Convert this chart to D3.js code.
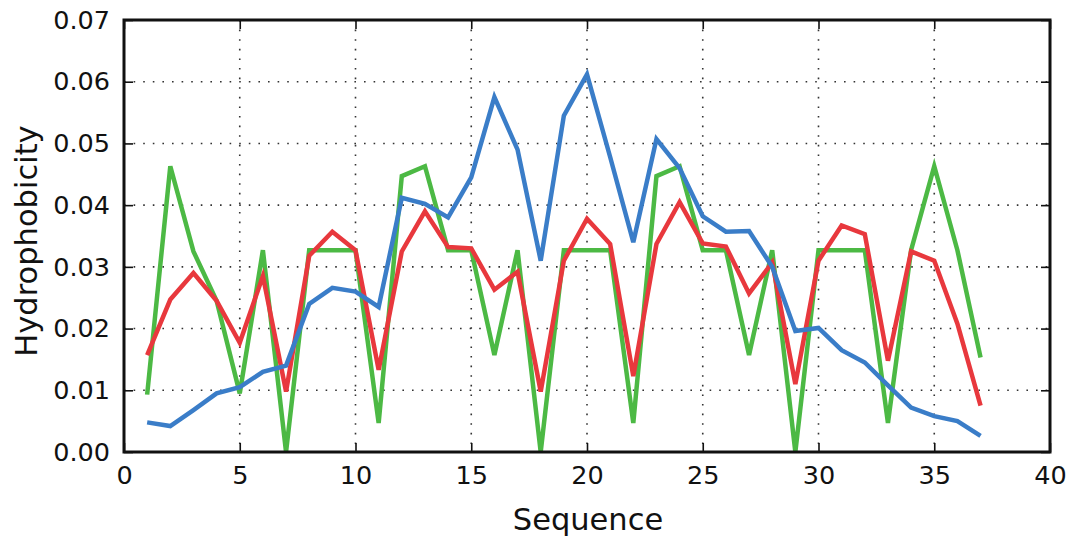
<!DOCTYPE html>
<html>
<head>
<meta charset="utf-8">
<script src="https://cdn.jsdelivr.net/npm/d3@7"></script>
<style>
  body { margin: 0; background: white; }
  text { font-family: "DejaVu Sans", sans-serif; fill: #111; }
</style>
</head>
<body>
<script>
// data, residues 1..37
let sequence = d3.range(1, 38)
let blue = [0.0048, 0.0042, 0.0068, 0.0095, 0.0105, 0.0130, 0.0140, 0.0240, 0.0266, 0.0260,
            0.0235, 0.0412, 0.0402, 0.0380, 0.0445, 0.0575, 0.0490, 0.0310, 0.0545, 0.0612,
            0.0478, 0.0340, 0.0507, 0.0460, 0.0382, 0.0357, 0.0358, 0.0300, 0.0196, 0.0201,
            0.0165, 0.0145, 0.0108, 0.0072, 0.0058, 0.0050, 0.0026]
let green = [0.0093, 0.0463, 0.0325, 0.0245, 0.0095, 0.0327, 0.0000, 0.0327, 0.0327, 0.0327,
             0.0047, 0.0447, 0.0463, 0.0327, 0.0327, 0.0157, 0.0327, 0.0000, 0.0327, 0.0327,
             0.0327, 0.0047, 0.0447, 0.0463, 0.0327, 0.0327, 0.0157, 0.0327, 0.0000, 0.0327,
             0.0327, 0.0327, 0.0047, 0.0327, 0.0463, 0.0327, 0.0153]
let red = [0.0157, 0.0247, 0.0290, 0.0245, 0.0177, 0.0285, 0.0098, 0.0318, 0.0357, 0.0327,
           0.0133, 0.0325, 0.0390, 0.0332, 0.0330, 0.0263, 0.0292, 0.0098, 0.0310, 0.0378,
           0.0337, 0.0123, 0.0337, 0.0405, 0.0338, 0.0333, 0.0257, 0.0307, 0.0110, 0.0310,
           0.0367, 0.0353, 0.0148, 0.0325, 0.0310, 0.0208, 0.0075]
let xTicks = [0, 5, 10, 15, 20, 25, 30, 35, 40]
let yTicks = [0, 0.01, 0.02, 0.03, 0.04, 0.05, 0.06, 0.07]

let W = 1073, H = 540
let pLeft = 124, pRight = 1050, pTop = 20, pBottom = 452

let svg = d3.select("body")
  .append("svg")
    .attr("width", W)
    .attr("height", H)

let x = d3.scaleLinear().domain([0, 40]).range([pLeft, pRight])
let y = d3.scaleLinear().domain([0, 0.07]).range([pBottom, pTop])

// dotted grid
let grid = svg.append("g").attr("id", "grid")
grid.selectAll("line.gx")
  .data(xTicks.slice(1, -1))
  .join("line")
    .attr("class", "gx")
    .attr("x1", d => x(d)).attr("x2", d => x(d))
    .attr("y1", pTop).attr("y2", pBottom)
grid.selectAll("line.gy")
  .data(yTicks.slice(1, -1))
  .join("line")
    .attr("class", "gy")
    .attr("x1", pLeft).attr("x2", pRight)
    .attr("y1", d => y(d)).attr("y2", d => y(d))
grid.selectAll("line")
    .attr("stroke", "#333")
    .attr("stroke-width", 1.6)
    .attr("stroke-dasharray", "1.6,8")

// lines
let line = d3.line()
  .x((d, i) => x(sequence[i]))
  .y(d => y(d))

let series = [[green, "#4cb944"], [red, "#e8383d"], [blue, "#3a7dc8"]]
for (let i = 0; i < series.length; i++) {
  svg.append("path")
    .datum(series[i][0])
    .attr("d", line)
    .attr("fill", "none")
    .attr("stroke", series[i][1])
    .attr("stroke-width", 4.5)
    .attr("stroke-linejoin", "miter")
}

// axes, ticks pointing inward on all four sides
let fmt = d3.format(".2f")
svg.append("g")
  .attr("transform", `translate(0,${pBottom})`)
  .call(d3.axisBottom(x).tickValues(xTicks).tickSize(-9).tickPadding(14))
svg.append("g")
  .attr("transform", `translate(0,${pTop})`)
  .call(d3.axisTop(x).tickValues(xTicks).tickSize(-9).tickFormat(""))
svg.append("g")
  .attr("transform", `translate(${pLeft},0)`)
  .call(d3.axisLeft(y).tickValues(yTicks).tickSize(-9).tickPadding(14).tickFormat(fmt))
svg.append("g")
  .attr("transform", `translate(${pRight},0)`)
  .call(d3.axisRight(y).tickValues(yTicks).tickSize(-9).tickFormat(""))

svg.selectAll(".domain").remove()
svg.selectAll(".tick line").attr("stroke", "#111").attr("stroke-width", 1.6)
svg.selectAll(".tick text")
    .attr("font-size", 25.5)
    .attr("font-family", "DejaVu Sans")
    .attr("fill", "#111")

svg.append("rect")
    .attr("x", pLeft).attr("y", pTop)
    .attr("width", pRight - pLeft).attr("height", pBottom - pTop)
    .attr("fill", "none")
    .attr("stroke", "#111")
    .attr("stroke-width", 3)

svg.append("text")
    .attr("x", (pLeft + pRight) / 2 + 1)
    .attr("y", 530)
    .attr("text-anchor", "middle")
    .attr("font-size", 30.5)
    .text("Sequence")
svg.append("text")
    .attr("transform", `translate(37,${(pTop + pBottom) / 2 + 5}) rotate(-90)`)
    .attr("text-anchor", "middle")
    .attr("font-size", 30.5)
    .text("Hydrophobicity")
</script>
</body>
</html>
